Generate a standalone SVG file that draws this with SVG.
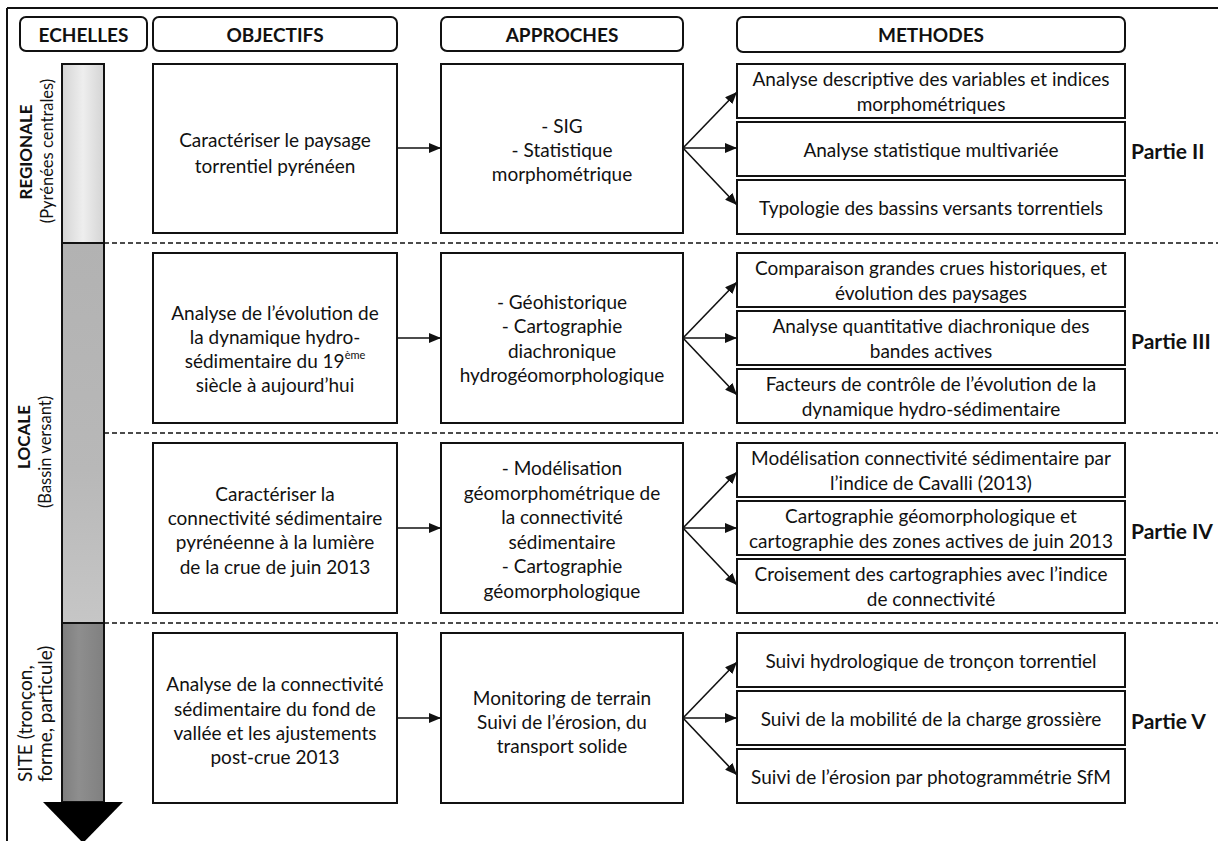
<svg xmlns="http://www.w3.org/2000/svg" width="1218" height="841" viewBox="0 0 1218 841">
<style>
text{font-family:Lato,"Liberation Sans",sans-serif;fill:#111;}
.t{font-size:19px;text-anchor:middle;dominant-baseline:central;}
.h{font-size:19px;font-weight:bold;text-anchor:middle;dominant-baseline:central;}
.p{font-size:21px;font-weight:bold;dominant-baseline:central;}
.box{fill:#fff;stroke:#111;stroke-width:2;}
.hdr{fill:#fff;stroke:#111;stroke-width:2;}
.dash{stroke:#111;stroke-width:1.5;stroke-dasharray:5 3;fill:none;}
.con{stroke:#111;stroke-width:1.6;fill:none;marker-end:url(#ah);}
.lab{font-size:17px;dominant-baseline:central;}
.labr{font-size:16.5px;dominant-baseline:central;}
.labs{font-size:19px;dominant-baseline:central;}
</style>
<defs>
<marker id="ah" viewBox="0 0 12 10" refX="12" refY="5" markerWidth="12" markerHeight="10" markerUnits="userSpaceOnUse" orient="auto">
<path d="M0,0 L12,5 L0,10 Z" fill="#111"/>
</marker>
<linearGradient id="g1" x1="0" x2="1" y1="0" y2="0"><stop offset="0" stop-color="#d4d4d4"/><stop offset="0.5" stop-color="#eeeeee"/><stop offset="1" stop-color="#d4d4d4"/></linearGradient>
<linearGradient id="g2" x1="0" x2="0" y1="0" y2="1"><stop offset="0" stop-color="#b2b2b2"/><stop offset="0.6" stop-color="#b8b8b8"/><stop offset="1" stop-color="#c6c6c6"/></linearGradient>
<linearGradient id="g3" x1="0" x2="1" y1="0" y2="0"><stop offset="0" stop-color="#7e7e7e"/><stop offset="0.4" stop-color="#8e8e8e"/><stop offset="1" stop-color="#808080"/></linearGradient>
</defs>

<g id="frame">
<line x1="7" y1="8" x2="1218" y2="8" stroke="#111" stroke-width="2"/>
<line x1="7" y1="8" x2="7" y2="841" stroke="#111" stroke-width="2"/>
</g>

<g id="headers">
<g id="h-echelles"><rect class="hdr" x="20" y="17" width="127" height="34" rx="6"/><text class="h" x="83.5" y="34">ECHELLES</text></g>
<g id="h-objectifs"><rect class="hdr" x="153" y="17" width="244" height="34" rx="6"/><text class="h" x="275" y="34">OBJECTIFS</text></g>
<g id="h-approches"><rect class="hdr" x="441" y="17" width="242" height="34" rx="6"/><text class="h" x="562" y="34">APPROCHES</text></g>
<g id="h-methodes"><rect class="hdr" x="737" y="17" width="388" height="35" rx="6"/><text class="h" x="931" y="34.5">METHODES</text></g>
</g>

<g id="scale">
<rect x="62" y="64" width="42" height="179" fill="url(#g1)" stroke="#111" stroke-width="2"/>
<rect x="62" y="243" width="42" height="380" fill="url(#g2)" stroke="#111" stroke-width="2"/>
<rect x="62" y="623" width="42" height="179" fill="url(#g3)" stroke="#111" stroke-width="2"/>
<path d="M43,802 L123,802 L83,843 Z" fill="#000"/>
<g transform="translate(25,152) rotate(-90)"><text class="lab" x="0" y="0" font-weight="bold" text-anchor="middle">REGIONALE</text></g>
<g transform="translate(47,151) rotate(-90)"><text class="labr" x="0" y="0" text-anchor="middle">(Pyrénées centrales)</text></g>
<g transform="translate(23,437) rotate(-90)"><text class="lab" x="0" y="0" font-weight="bold" text-anchor="middle">LOCALE</text></g>
<g transform="translate(45,452) rotate(-90)"><text class="labr" x="0" y="0" text-anchor="middle">(Bassin versant)</text></g>
<g transform="translate(24,782) rotate(-90)"><text class="labs" x="0" y="0" text-anchor="start">SITE (tronçon,</text></g>
<g transform="translate(44,782) rotate(-90)"><text class="labs" x="0" y="0" text-anchor="start">forme, particule)</text></g>
</g>

<g id="separators">
<line class="dash" x1="104" y1="243" x2="1218" y2="243"/>
<line class="dash" x1="104" y1="433" x2="1218" y2="433"/>
<line class="dash" x1="104" y1="623" x2="1218" y2="623"/>
</g>

<!-- Row 1 -->
<g id="obj1"><rect class="box" x="153" y="64" width="244" height="169"/>
<text class="t" x="275"><tspan x="275" y="139">Caractériser le paysage</tspan><tspan x="275" y="165">torrentiel pyrénéen</tspan></text></g>
<g id="app1"><rect class="box" x="441" y="64" width="242" height="169"/>
<text class="t"><tspan x="562" y="125">- SIG</tspan><tspan x="562" y="149">- Statistique</tspan><tspan x="562" y="173">morphométrique</tspan></text></g>
<g id="m1a"><rect class="box" x="737" y="64" width="388" height="54"/><text class="t"><tspan x="931" y="78">Analyse descriptive des variables et indices</tspan><tspan x="931" y="103">morphométriques</tspan></text></g>
<g id="m1b"><rect class="box" x="737" y="122" width="388" height="54"/><text class="t" x="931" y="149">Analyse statistique multivariée</text></g>
<g id="m1c"><rect class="box" x="737" y="180" width="388" height="54"/><text class="t" x="931" y="207">Typologie des bassins versants torrentiels</text></g>
<g id="p2"><text class="p" x="1131" y="150">Partie II</text></g>

<!-- Row 2 -->
<g id="obj2"><rect class="box" x="153" y="253" width="244" height="170"/>
<text class="t"><tspan x="275" y="312">Analyse de l’évolution de</tspan><tspan x="275" y="336">la dynamique hydro-</tspan><tspan x="275" y="360">sédimentaire du 19<tspan font-size="11" dy="-6">ème</tspan></tspan><tspan x="275" y="384">siècle à aujourd’hui</tspan></text></g>
<g id="app2"><rect class="box" x="441" y="253" width="242" height="170"/>
<text class="t"><tspan x="562" y="301">- Géohistorique</tspan><tspan x="562" y="325">- Cartographie</tspan><tspan x="562" y="350">diachronique</tspan><tspan x="562" y="374">hydrogéomorphologique</tspan></text></g>
<g id="m2a"><rect class="box" x="737" y="253" width="388" height="54"/><text class="t"><tspan x="931" y="267">Comparaison grandes crues historiques, et</tspan><tspan x="931" y="292">évolution des paysages</tspan></text></g>
<g id="m2b"><rect class="box" x="737" y="311" width="388" height="54"/><text class="t"><tspan x="931" y="325">Analyse quantitative diachronique des</tspan><tspan x="931" y="350">bandes actives</tspan></text></g>
<g id="m2c"><rect class="box" x="737" y="369" width="388" height="54"/><text class="t"><tspan x="931" y="383">Facteurs de contrôle de l’évolution de la</tspan><tspan x="931" y="408">dynamique hydro-sédimentaire</tspan></text></g>
<g id="p3"><text class="p" x="1131" y="340">Partie III</text></g>

<!-- Row 3 -->
<g id="obj3"><rect class="box" x="153" y="443" width="244" height="170"/>
<text class="t"><tspan x="275" y="493">Caractériser la</tspan><tspan x="275" y="517">connectivité sédimentaire</tspan><tspan x="275" y="541">pyrénéenne à la lumière</tspan><tspan x="275" y="566">de la crue de juin 2013</tspan></text></g>
<g id="app3"><rect class="box" x="441" y="443" width="242" height="170"/>
<text class="t"><tspan x="562" y="467">- Modélisation</tspan><tspan x="562" y="492">géomorphométrique de</tspan><tspan x="562" y="516">la connectivité</tspan><tspan x="562" y="541">sédimentaire</tspan><tspan x="562" y="565">- Cartographie</tspan><tspan x="562" y="590">géomorphologique</tspan></text></g>
<g id="m3a"><rect class="box" x="737" y="443" width="388" height="54"/><text class="t"><tspan x="931" y="457">Modélisation connectivité sédimentaire par</tspan><tspan x="931" y="482">l’indice de Cavalli (2013)</tspan></text></g>
<g id="m3b"><rect class="box" x="737" y="501" width="388" height="54"/><text class="t"><tspan x="931" y="515">Cartographie géomorphologique et</tspan><tspan x="931" y="540">cartographie des zones actives de juin 2013</tspan></text></g>
<g id="m3c"><rect class="box" x="737" y="559" width="388" height="54"/><text class="t"><tspan x="931" y="573">Croisement des cartographies avec l’indice</tspan><tspan x="931" y="598">de connectivité</tspan></text></g>
<g id="p4"><text class="p" x="1131" y="530">Partie IV</text></g>

<!-- Row 4 -->
<g id="obj4"><rect class="box" x="153" y="633" width="244" height="170"/>
<text class="t"><tspan x="275" y="683">Analyse de la connectivité</tspan><tspan x="275" y="708">sédimentaire du fond de</tspan><tspan x="275" y="732">vallée et les ajustements</tspan><tspan x="275" y="756">post-crue 2013</tspan></text></g>
<g id="app4"><rect class="box" x="441" y="633" width="242" height="170"/>
<text class="t"><tspan x="562" y="697">Monitoring de terrain</tspan><tspan x="562" y="721">Suivi de l’érosion, du</tspan><tspan x="562" y="745">transport solide</tspan></text></g>
<g id="m4a"><rect class="box" x="737" y="633" width="388" height="54"/><text class="t" x="931" y="660">Suivi hydrologique de tronçon torrentiel</text></g>
<g id="m4b"><rect class="box" x="737" y="691" width="388" height="54"/><text class="t" x="931" y="718">Suivi de la mobilité de la charge grossière</text></g>
<g id="m4c"><rect class="box" x="737" y="749" width="388" height="54"/><text class="t" x="931" y="776">Suivi de l’érosion par photogrammétrie SfM</text></g>
<g id="p5"><text class="p" x="1131" y="720">Partie V</text></g>

<g id="connectors">
<line class="con" x1="397" y1="148" x2="441" y2="148"/>
<line class="con" x1="683" y1="148" x2="737" y2="92"/>
<line class="con" x1="683" y1="148" x2="737" y2="148"/>
<line class="con" x1="683" y1="148" x2="737" y2="205"/>

<line class="con" x1="397" y1="338" x2="441" y2="338"/>
<line class="con" x1="683" y1="338" x2="737" y2="282"/>
<line class="con" x1="683" y1="338" x2="737" y2="338"/>
<line class="con" x1="683" y1="338" x2="737" y2="395"/>

<line class="con" x1="397" y1="528" x2="441" y2="528"/>
<line class="con" x1="683" y1="528" x2="737" y2="472"/>
<line class="con" x1="683" y1="528" x2="737" y2="528"/>
<line class="con" x1="683" y1="528" x2="737" y2="585"/>

<line class="con" x1="397" y1="718" x2="441" y2="718"/>
<line class="con" x1="683" y1="718" x2="737" y2="662"/>
<line class="con" x1="683" y1="718" x2="737" y2="718"/>
<line class="con" x1="683" y1="718" x2="737" y2="775"/>
</g>
</svg>
